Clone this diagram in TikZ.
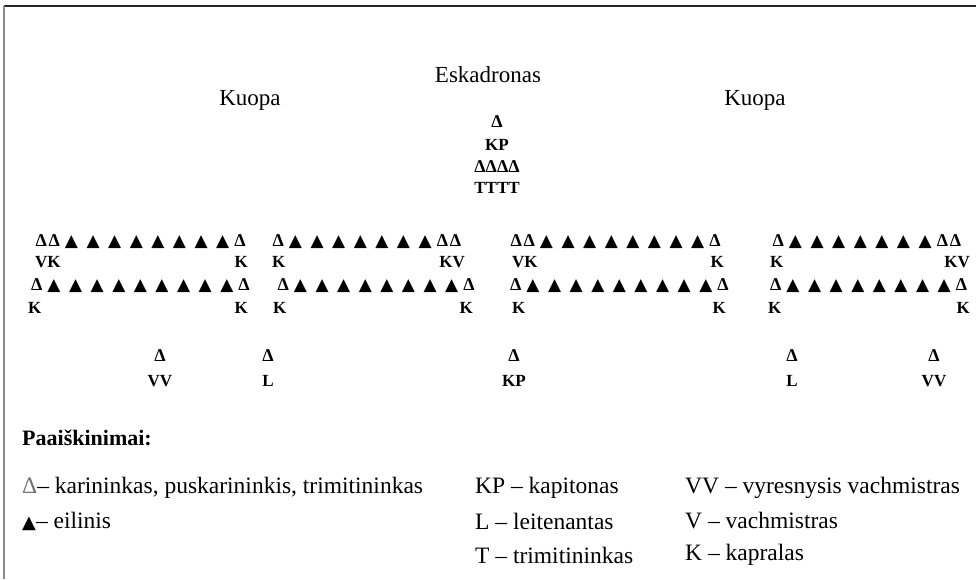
\documentclass[tikz,border=0pt]{standalone}
\usepackage{fontspec}
\setmainfont{Liberation Serif}
\newfontfamily\dejavu{DejaVu Sans}
\newcommand\fsz[1]{\fontsize{#1}{#1}\selectfont}
\newcommand\wD{\makebox[13pt]{\fsz{18}\bfseries Δ}}
\newcommand\bD{\makebox[21.6pt]{\dejavu\fsz{17}▲}}
\newcommand\bN[1]{\foreach\i in {1,...,#1}{\bD}}
\tikzset{
  row/.style={inner sep=0pt, anchor=west, font=\fsz{15}},
  lab/.style={inner sep=0pt, font=\fsz{17}\bfseries},
  sym/.style={inner sep=0pt, font=\fsz{18}\bfseries},
  ttl/.style={inner sep=0pt, font=\fsz{23}},
  leg/.style={inner sep=0pt, anchor=west, font=\fsz{23.5}},
}
\begin{document}
\begin{tikzpicture}[x=1pt,y=-1pt]
\useasboundingbox (0,0) rectangle (976,579);
\fill[white] (0,0) rectangle (976,579);
% frame
\coordinate (tl) at (4,6);
\coordinate (tr) at (976,6);
\coordinate (bl) at (4,579);
\draw[line width=2pt, black!85] (tl) -- (tr);
\draw[line width=2pt, black!45] (tl) -- (bl);
% titles
\node[ttl] (esk) at (488,75) {Eskadronas};
\node[ttl] (kuopaL) at (250,100) {Kuopa};
\node[ttl] (kuopaR) at (755,100) {Kuopa};
% centre column
\node[sym] (c1) at (497,122) {Δ};
\node[lab] (c2) at (497,145) {KP};
\node[sym] (c3) at (497,167) {ΔΔΔΔ};
\node[lab] (c4) at (497,188) {TTTT};
% group 1
\node[row] (g1r1) at (34.5,242) {\wD\wD\bN{8}\wD};
\node[lab, anchor=west] (g1a) at (35,262) {VK};
\node[lab, anchor=east] (g1b) at (248,262) {K};
\node[row] (g1r2) at (30,286) {\wD\bN{9}\wD};
\node[lab, anchor=west] (g1c) at (28,308) {K};
\node[lab, anchor=east] (g1d) at (248,308) {K};
% group 2
\node[row] (g2r1) at (271.5,242) {\wD\bN{7}\wD\wD};
\node[lab, anchor=west] (g2a) at (272,262) {K};
\node[lab, anchor=east] (g2b) at (465,262) {KV};
\node[row] (g2r2) at (276.5,286) {\wD\bN{8}\wD};
\node[lab, anchor=west] (g2c) at (273,308) {K};
\node[lab, anchor=east] (g2d) at (473,308) {K};
% group 3
\node[row] (g3r1) at (509.5,242) {\wD\wD\bN{8}\wD};
\node[lab, anchor=west] (g3a) at (512,262) {VK};
\node[lab, anchor=east] (g3b) at (724,262) {K};
\node[row] (g3r2) at (509,286) {\wD\bN{9}\wD};
\node[lab, anchor=west] (g3c) at (512,308) {K};
\node[lab, anchor=east] (g3d) at (726,308) {K};
% group 4
\node[row] (g4r1) at (771.5,242) {\wD\bN{7}\wD\wD};
\node[lab, anchor=west] (g4a) at (770,262) {K};
\node[lab, anchor=east] (g4b) at (970,262) {KV};
\node[row] (g4r2) at (769,286) {\wD\bN{8}\wD};
\node[lab, anchor=west] (g4c) at (768,308) {K};
\node[lab, anchor=east] (g4d) at (970,308) {K};
% bottom officers
\node[sym] (b1) at (160,356) {Δ};
\node[lab] (b1l) at (160,381) {VV};
\node[sym] (b2) at (268,356) {Δ};
\node[lab] (b2l) at (268,381) {L};
\node[sym] (b3) at (514,356) {Δ};
\node[lab] (b3l) at (514,381) {KP};
\node[sym] (b4) at (792,356) {Δ};
\node[lab] (b4l) at (792,381) {L};
\node[sym] (b5) at (934,356) {Δ};
\node[lab] (b5l) at (934,381) {VV};
% legend
\node[leg, font=\fsz{22}\bfseries] (ph) at (22,438) {Paaiškinimai:};
\node[leg] (l11) at (22,488) {\textcolor{black!55}{Δ}– karininkas, puskarininkis, trimitininkas};
\node[leg] (l12) at (475,488) {KP – kapitonas};
\node[leg] (l13) at (685,488) {VV – vyresnysis vachmistras};
\node[leg] (l21) at (22,521) {{\dejavu\fsz{18}▲}– eilinis};
\node[leg] (l22) at (475,521) {L – leitenantas};
\node[leg] (l23) at (685,521) {V – vachmistras};
\node[leg] (l32) at (475,555) {T – trimitininkas};
\node[leg] (l33) at (685,555) {K – kapralas};
\end{tikzpicture}
\end{document}
